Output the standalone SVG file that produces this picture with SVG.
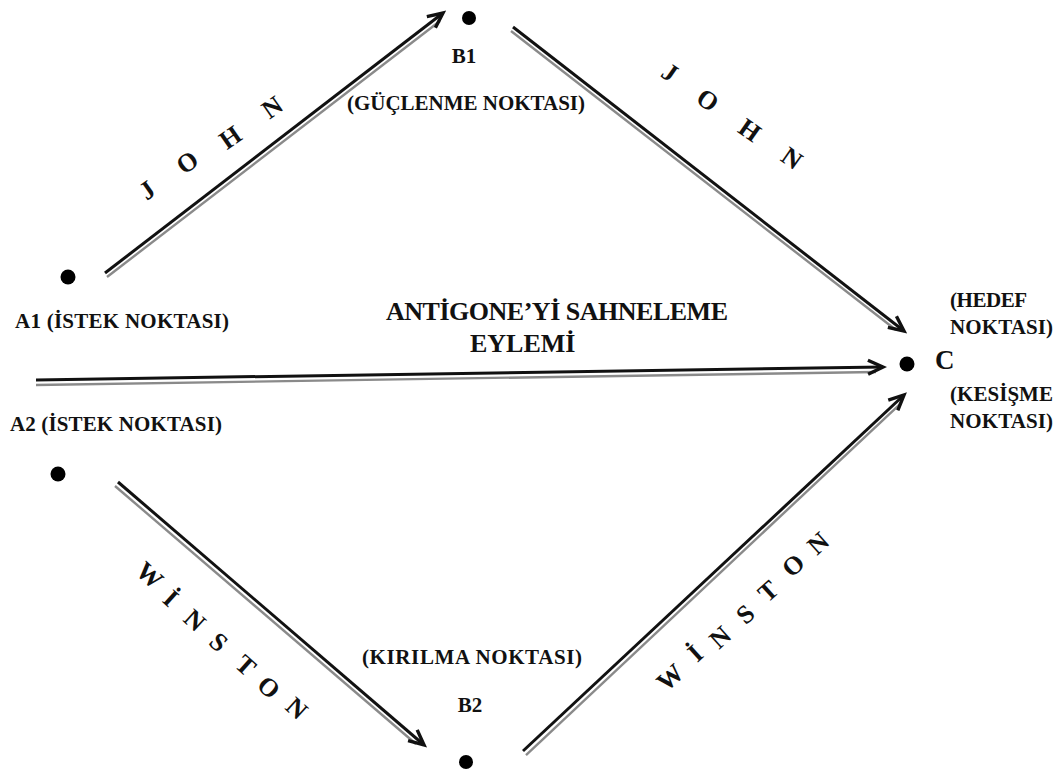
<svg xmlns="http://www.w3.org/2000/svg" width="1064" height="772" viewBox="0 0 1064 772">
<style>
  text { font-family: "Liberation Serif", "Times New Roman", serif; font-weight: bold; fill: #111; }
  .lbl { font-size: 21px; }
  .big { font-size: 26px; }
  .let { font-size: 26px; text-anchor: middle; }
  .ln { stroke: #111; stroke-width: 3; fill: none; }
  .sh { stroke: #8a8a8a; stroke-width: 2.4; fill: none; }
  .dot { fill: #000; }
</style>
<defs>
  <marker id="ah" markerUnits="userSpaceOnUse" viewBox="-18 -10 22 20" refX="0" refY="0" markerWidth="22" markerHeight="20" orient="auto">
    <path d="M-15,-7 L0,0 L-15,7" fill="none" stroke="#111" stroke-width="3.4" stroke-linejoin="miter"/>
  </marker>
</defs>
<rect width="1064" height="772" fill="#fff"/>

<g id="connectors">
  <g id="e-a1-b1">
    <line class="sh" x1="107" y1="277" x2="440" y2="21"/>
    <line class="ln" x1="105" y1="273" x2="443" y2="13" marker-end="url(#ah)"/>
  </g>
  <g id="e-b1-c">
    <line class="sh" x1="511" y1="31" x2="896" y2="330"/>
    <line class="ln" x1="513" y1="27" x2="904" y2="331" marker-end="url(#ah)"/>
  </g>
  <g id="e-main">
    <line class="sh" x1="36" y1="385" x2="876" y2="372"/>
    <line class="ln" x1="36" y1="380" x2="883" y2="367" marker-end="url(#ah)"/>
  </g>
  <g id="e-a2-b2">
    <line class="sh" x1="115" y1="486" x2="416" y2="744"/>
    <line class="ln" x1="118" y1="482" x2="424" y2="745" marker-end="url(#ah)"/>
  </g>
  <g id="e-b2-c">
    <line class="sh" x1="526" y1="755" x2="900" y2="404"/>
    <line class="ln" x1="523" y1="751" x2="904" y2="395" marker-end="url(#ah)"/>
  </g>
</g>

<g id="node-a1">
  <circle class="dot" cx="68" cy="277" r="7.5"/>
  <text class="lbl" x="15" y="328" textLength="214">A1 (İSTEK NOKTASI)</text>
</g>
<g id="node-a2">
  <circle class="dot" cx="58" cy="474" r="7.5"/>
  <text class="lbl" x="10" y="431" textLength="212">A2 (İSTEK NOKTASI)</text>
</g>
<g id="node-b1">
  <circle class="dot" cx="469" cy="18" r="7"/>
  <text class="lbl" x="464" y="63" text-anchor="middle">B1</text>
  <text class="lbl" x="347" y="110" textLength="238">(GÜÇLENME NOKTASI)</text>
</g>
<g id="node-b2">
  <circle class="dot" cx="466" cy="762" r="7"/>
  <text class="lbl" x="470" y="712" text-anchor="middle">B2</text>
  <text class="lbl" x="362" y="664" textLength="220">(KIRILMA NOKTASI)</text>
</g>
<g id="node-c">
  <circle class="dot" cx="907" cy="364" r="7.5"/>
  <text x="935" y="369" style="font-size:27px">C</text>
  <text class="lbl" x="950" y="307" textLength="77">(HEDEF</text>
  <text class="lbl" x="950" y="334" textLength="103">NOKTASI)</text>
  <text class="lbl" x="950" y="401" textLength="103">(KESİŞME</text>
  <text class="lbl" x="950" y="428" textLength="103">NOKTASI)</text>
</g>

<g id="label-main">
  <text class="big" x="386" y="320" textLength="342">ANTİGONE’Yİ SAHNELEME</text>
  <text class="big" x="470" y="352">EYLEMİ</text>
</g>

<g id="label-john-1">
  <text class="let" transform="translate(147,190) rotate(-35)" y="9">J</text>
  <text class="let" transform="translate(187,162) rotate(-35)" y="9">O</text>
  <text class="let" transform="translate(230,137) rotate(-35)" y="9">H</text>
  <text class="let" transform="translate(272,107) rotate(-35)" y="9">N</text>
</g>
<g id="label-john-2">
  <text class="let" transform="translate(670,72) rotate(35)" y="9">J</text>
  <text class="let" transform="translate(708,100) rotate(35)" y="9">O</text>
  <text class="let" transform="translate(750,130) rotate(35)" y="9">H</text>
  <text class="let" transform="translate(792,158) rotate(35)" y="9">N</text>
</g>
<g id="label-winston-1">
  <text class="let" transform="translate(150,575) rotate(42)" y="9">W</text>
  <text class="let" transform="translate(171,598) rotate(42)" y="9">İ</text>
  <text class="let" transform="translate(195,620) rotate(42)" y="9">N</text>
  <text class="let" transform="translate(219,642) rotate(42)" y="9">S</text>
  <text class="let" transform="translate(246,665) rotate(42)" y="9">T</text>
  <text class="let" transform="translate(269,687) rotate(42)" y="9">O</text>
  <text class="let" transform="translate(297,708) rotate(42)" y="9">N</text>
</g>
<g id="label-winston-2">
  <text class="let" transform="translate(670,677) rotate(-42)" y="9">W</text>
  <text class="let" transform="translate(695,653) rotate(-42)" y="9">İ</text>
  <text class="let" transform="translate(720,637) rotate(-42)" y="9">N</text>
  <text class="let" transform="translate(745,614) rotate(-42)" y="9">S</text>
  <text class="let" transform="translate(768,591) rotate(-42)" y="9">T</text>
  <text class="let" transform="translate(793,565) rotate(-42)" y="9">O</text>
  <text class="let" transform="translate(818,543) rotate(-42)" y="9">N</text>
</g>
</svg>
